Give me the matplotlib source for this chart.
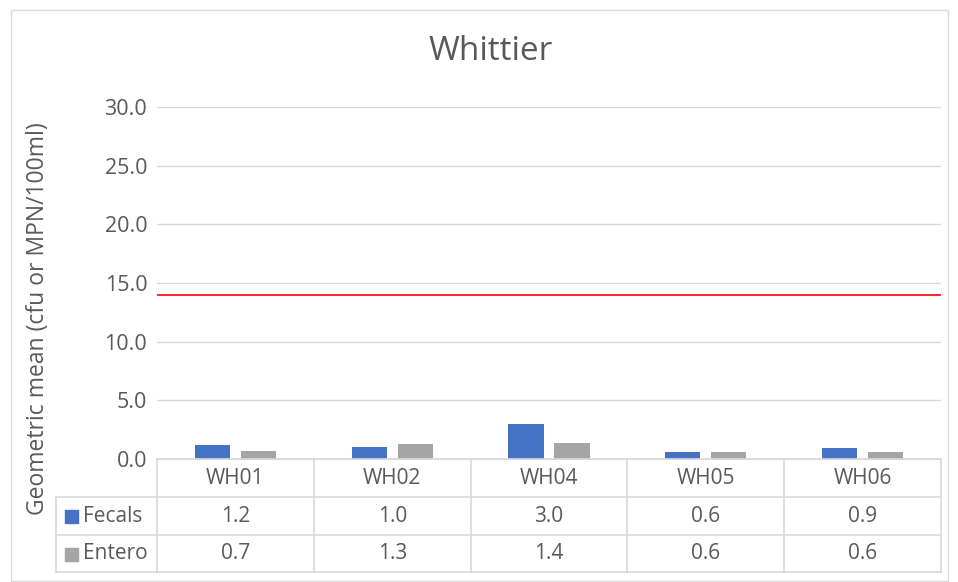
import matplotlib.pyplot as plt
from matplotlib.patches import Rectangle
from matplotlib.lines import Line2D
import numpy as np

# --- Data ---
sites = ['WH01', 'WH02', 'WH04', 'WH05', 'WH06']
fecals = [1.2, 1.0, 3.0, 0.6, 0.9]
entero = [0.7, 1.3, 1.4, 0.6, 0.6]
series_names = ['Fecals', 'Entero']
standard = 14.0
y_ticks = [0, 5, 10, 15, 20, 25, 30]

# --- Style ---
TXT = '#595959'
GRID = '#d9d9d9'
BLUE = '#4472c4'
GRAY = '#a5a5a5'
FS = 15
plt.rcParams['font.family'] = ['Open Sans', 'DejaVu Sans']

W, H = 958, 582
fig = plt.figure(figsize=(W / 100, H / 100), dpi=100)


def fx(p):
    return p / W


def fy(p):
    return 1 - p / H


# outer chart border
fig.add_artist(Rectangle((fx(11), fy(581)), (948 - 11) / W, (581 - 10) / H,
                         transform=fig.transFigure, fill=False, edgecolor=GRID, lw=1))

ax = fig.add_axes([fx(157), fy(459), (941 - 157) / W, (459 - 107) / H])
x = np.arange(len(sites))
bw = 0.225
ax.bar(x - 0.147, fecals, bw, color=BLUE, zorder=3)
ax.bar(x + 0.147, entero, bw, color=GRAY, zorder=3)
ax.axhline(standard, color='#ff0000', lw=1.2, zorder=4)

ax.set_xlim(-0.5, len(sites) - 0.5)
ax.set_ylim(0, 30)
ax.set_yticks(y_ticks)
ax.set_yticklabels([f'{v:.1f}' for v in y_ticks], color=TXT, fontsize=15.5)
ax.tick_params(axis='y', length=0, pad=7)
ax.set_xticks([])
ax.grid(axis='y', color=GRID, lw=1, zorder=0)
for s in ['top', 'right', 'left']:
    ax.spines[s].set_visible(False)
ax.spines['bottom'].set_color(GRID)

fig.text(fx(491), fy(52), 'Whittier', ha='center', va='center',
         fontsize=24, color=TXT)
fig.text(fx(38), fy(319), 'Geometric mean (cfu or MPN/100ml)', rotation=90,
         ha='center', va='center', fontsize=16.5, color=TXT)

# --- Data table below the plot ---
col_edges = [157 + i * (941 - 157) / len(sites) for i in range(len(sites) + 1)]
row_edges = [459, 497, 535, 572]
left_edge = 56

for r in row_edges[1:]:
    fig.add_artist(Line2D([fx(left_edge), fx(941)], [fy(r), fy(r)], color=GRID, lw=1.2))
fig.add_artist(Line2D([fx(157), fx(941)], [fy(459), fy(459)], color=GRID, lw=1.2))
for c in col_edges:
    fig.add_artist(Line2D([fx(c), fx(c)], [fy(459), fy(572)], color=GRID, lw=1.2))
fig.add_artist(Line2D([fx(left_edge), fx(left_edge)], [fy(497), fy(572)], color=GRID, lw=1.2))

# header row: site names
for i, s in enumerate(sites):
    cx = (col_edges[i] + col_edges[i + 1]) / 2
    fig.text(fx(cx), fy((row_edges[0] + row_edges[1]) / 2), s, ha='center', va='center',
             fontsize=FS, color=TXT)

# value rows with legend keys
for k, (name, vals, col) in enumerate(zip(series_names, [fecals, entero], [BLUE, GRAY])):
    yc = (row_edges[k + 1] + row_edges[k + 2]) / 2
    fig.add_artist(Rectangle((fx(65), fy(yc + 7)), 13 / W, 13 / H,
                             transform=fig.transFigure, color=col))
    fig.text(fx(83), fy(yc), name, ha='left', va='center', fontsize=FS, color=TXT)
    for i, v in enumerate(vals):
        cx = (col_edges[i] + col_edges[i + 1]) / 2
        fig.text(fx(cx), fy(yc), f'{v:.1f}', ha='center', va='center',
                 fontsize=FS, color=TXT)

fig.savefig('out.png', dpi=100)
